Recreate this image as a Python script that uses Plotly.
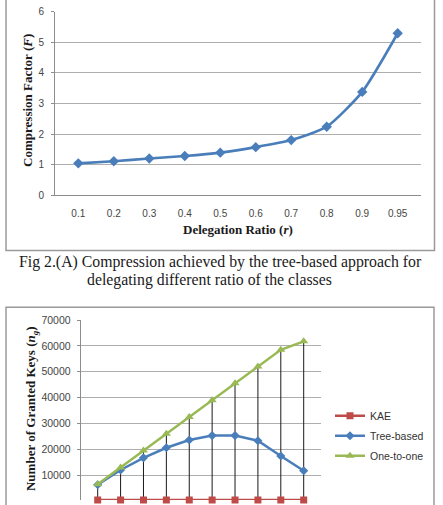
import plotly.graph_objects as go

W, H = 443, 505

ratios = ["0.1", "0.2", "0.3", "0.4", "0.5", "0.6", "0.7", "0.8", "0.9", "0.95"]
compression = [1.04, 1.11, 1.20, 1.28, 1.39, 1.57, 1.80, 2.24, 3.38, 5.30]

kae = [0, 0, 0, 0, 0, 0, 0, 0, 0, 0]
tree_based = [6300, 12000, 16700, 20600, 23600, 25300, 25300, 23300, 17400, 11700]
one_to_one = [6500, 13000, 19500, 26000, 32500, 39000, 45500, 52000, 58500, 61750]

top_yticks = [0, 1, 2, 3, 4, 5, 6]
bot_yticks = [10000, 20000, 30000, 40000, 50000, 60000, 70000]

BLUE = "#4A7EBB"
RED = "#BE4B48"
GREEN = "#98B954"
GRID = "#aeaeae"
TICKC = "#454545"


def px(x):
    return x / W


def py(y):
    return 1 - y / H


fig = go.Figure()

# ---- top chart ----
fig.add_trace(go.Scatter(
    x=ratios, y=compression, mode="lines+markers",
    line=dict(color=BLUE, width=2.6, shape="spline", smoothing=0.6),
    marker=dict(symbol="diamond", size=8, color=BLUE),
    xaxis="x", yaxis="y", showlegend=False, cliponaxis=False))

# ---- bottom chart: drop lines ----
dx, dy = [], []
for c, v in zip(ratios, one_to_one):
    dx += [c, c, None]
    dy += [0, v, None]
fig.add_trace(go.Scatter(
    x=dx, y=dy, mode="lines", line=dict(color="#1a1a1a", width=1),
    xaxis="x2", yaxis="y2", showlegend=False, hoverinfo="skip"))

fig.add_trace(go.Scatter(
    x=ratios, y=kae, mode="lines+markers", name="KAE",
    line=dict(color=RED, width=2.5),
    marker=dict(symbol="square", size=7, color=RED),
    xaxis="x2", yaxis="y3", cliponaxis=False, legendgroup="a"))
fig.add_trace(go.Scatter(
    x=ratios, y=tree_based, mode="lines+markers", name="Tree-based",
    line=dict(color=BLUE, width=2.5),
    marker=dict(symbol="diamond", size=7, color=BLUE),
    xaxis="x2", yaxis="y2", cliponaxis=False, legendgroup="b"))
fig.add_trace(go.Scatter(
    x=ratios, y=one_to_one, mode="lines+markers", name="One-to-one",
    line=dict(color=GREEN, width=2.5),
    marker=dict(symbol="triangle-up", size=8, color=GREEN),
    xaxis="x2", yaxis="y2", cliponaxis=False, legendgroup="c"))

tickfont = dict(family="Liberation Sans", size=10, color=TICKC)
bot_range = [400, 70000]

fig.update_layout(
    width=W, height=H,
    margin=dict(l=0, r=0, t=0, b=0),
    paper_bgcolor="white", plot_bgcolor="white",
    xaxis=dict(domain=[px(55), px(421)], anchor="y", type="category",
               categoryorder="array", categoryarray=ratios,
               showgrid=False, showline=True, linecolor="#8c8c8c", linewidth=1,
               ticks="", tickfont=tickfont, ticklabelstandoff=9),
    yaxis=dict(domain=[py(193.3), py(6)], anchor="x", range=[0, 6],
               tickvals=top_yticks, showgrid=True, gridcolor=GRID, gridwidth=1.2,
               zeroline=False, showline=True, linecolor="#8c8c8c", linewidth=1,
               ticks="outside", ticklen=3, tickcolor="#8c8c8c",
               tickfont=tickfont, ticklabelstandoff=5),
    xaxis2=dict(domain=[px(80.7), px(320.7)], anchor="y2", type="category",
                categoryorder="array", categoryarray=ratios,
                showgrid=False, showline=False, showticklabels=False, ticks=""),
    yaxis2=dict(domain=[0, py(321)], anchor="x2", range=bot_range,
                tickvals=bot_yticks, tickformat="d",
                showgrid=True, gridcolor=GRID, gridwidth=1.2,
                zeroline=False, showline=True, linecolor="#8c8c8c", linewidth=1,
                ticks="outside", ticklen=3, tickcolor="#8c8c8c",
                tickfont=dict(family="Liberation Sans", size=10.5, color=TICKC),
                ticklabelstandoff=4),
    yaxis3=dict(overlaying="y2", anchor="x2", visible=False,
                range=[0, bot_range[1] - bot_range[0]], showgrid=False, zeroline=False),
    legend=dict(x=px(330), y=py(404), xanchor="left", yanchor="top",
                font=dict(family="Liberation Sans", size=10.5, color="#333333"),
                bgcolor="rgba(0,0,0,0)", tracegroupgap=1, itemwidth=30),
    showlegend=True,
)

# borders of the two chart boxes
fig.add_shape(type="rect", xref="paper", yref="paper",
              x0=px(6), x1=px(434.5), y0=py(250), y1=py(-10),
              line=dict(color="#9a9a9a", width=1.5))
fig.add_shape(type="rect", xref="paper", yref="paper",
              x0=px(6), x1=px(434), y0=py(520), y1=py(308),
              line=dict(color="#9a9a9a", width=1.5))

serif = "Liberation Serif"


def note(text, x, y, size, angle=0):
    fig.add_annotation(text=text, x=px(x), y=py(y), xref="paper", yref="paper",
                       xanchor="center", yanchor="middle", showarrow=False,
                       textangle=angle,
                       font=dict(family=serif, size=size, color="#1a1a1a"))


note("<b>Delegation Ratio (<i>r</i>)</b>", 238, 228, 13)
note("<b>Compression Factor (<i>F</i>)</b>", 28, 97, 13, -90)
note("Fig 2.(A) Compression achieved by the tree-based approach for", 220, 262, 15.8)
note("delegating different ratio of the classes", 209.5, 280.5, 15.8)
note("<b>Number of Granted Keys (<i>n<sub>g</sub></i>)</b>", 31, 412, 13, -90)

fig.write_html("out.html")
